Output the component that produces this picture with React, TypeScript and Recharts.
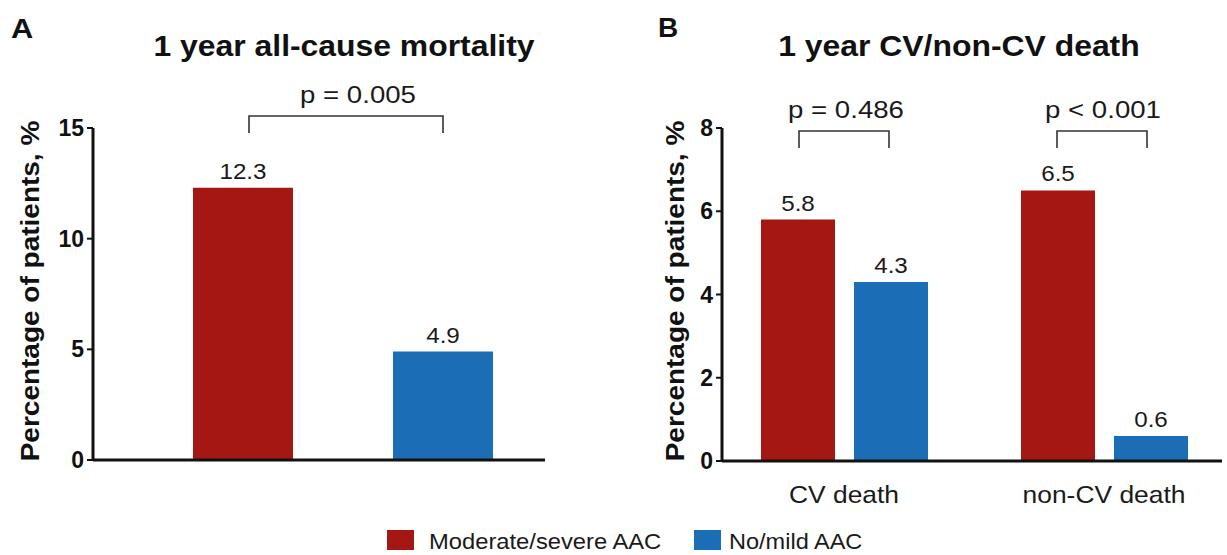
import React from "react";
import { BarChart, Bar, XAxis, YAxis, LabelList } from "recharts";

const FONT = "'Liberation Sans', Arial, sans-serif";
const RED = "#A51712";
const BLUE = "#1B6DB5";

// panel A
const allCauseGroups = [""];
const allCauseModerate = [12.3];
const allCauseMild = [4.9];
const allCauseTicks = [0, 5, 10, 15];

// panel B
const deathGroups = ["CV death", "non-CV death"];
const deathModerate = [5.8, 6.5];
const deathMild = [4.3, 0.6];
const deathTicks = [0, 2, 4, 6, 8];

const seriesNames = ["Moderate/severe AAC", "No/mild AAC"];
const pValues = ["p = 0.005", "p = 0.486", "p < 0.001"];

const dataA = allCauseGroups.map((g, i) => ({
  group: g,
  moderate: allCauseModerate[i],
  mild: allCauseMild[i],
}));

const dataB = deathGroups.map((g, i) => ({
  group: g,
  moderate: deathModerate[i],
  mild: deathMild[i],
}));

const tickStyle = { fontFamily: FONT, fontSize: 23, fontWeight: 700, fill: "#111" };

// text that is a bit wider than the font, like the original figure
function SText(props: any) {
  const { x, y, sx = 1, angle = 0, anchor = "middle", size = 22, weight = 400, fill = "#1a1a1a", children } = props;
  return (
    <g transform={`translate(${x},${y}) rotate(${angle}) scale(${sx},1)`}>
      <text x={0} y={0} textAnchor={anchor} fontSize={size} fontWeight={weight} fontFamily={FONT} fill={fill}>
        {children}
      </text>
    </g>
  );
}

const valueLabel = (props: any) => {
  const { x, y, width, value } = props;
  return (
    <SText x={Number(x) + Number(width) / 2} y={Number(y) - 9} size={22} sx={1.1}>
      {value}
    </SText>
  );
};

const groupTick = (props: any) => {
  const { x, y, payload } = props;
  return (
    <SText x={x} y={Number(y) + 42} size={24} sx={1.1}>
      {payload.value}
    </SText>
  );
};

function Bracket(props: { x1: number; x2: number; y: number; text: string; ty: number; dx: number }) {
  const { x1, x2, y, text, ty, dx } = props;
  return (
    <g>
      <path d={`M${x1},${y + 17} V${y} H${x2} V${y + 17}`} fill="none" stroke="#333" strokeWidth={1.6} />
      <SText x={(x1 + x2) / 2 + dx} y={ty} size={24} sx={1.15}>
        {text}
      </SText>
    </g>
  );
}

export default function App() {
  return (
    <div style={{ position: "absolute", left: 0, top: 0, width: 1227, height: 555, background: "#fff" }}>
      <div style={{ position: "absolute", left: 0, top: 0 }}>
        <BarChart
          width={560}
          height={555}
          data={dataA}
          margin={{ top: 128, right: 15, bottom: 55, left: 0 }}
          barSize={100}
          barGap={100}
        >
          <XAxis
            dataKey="group"
            tick={false}
            tickLine={false}
            height={40}
            axisLine={{ stroke: "#111", strokeWidth: 3 }}
            padding={{ left: 98, right: 51 }}
          />
          <YAxis
            width={93}
            domain={[0, 15]}
            ticks={allCauseTicks}
            interval={0}
            tick={tickStyle}
            tickSize={6}
            tickMargin={3}
            axisLine={{ stroke: "#111", strokeWidth: 3 }}
            tickLine={{ stroke: "#111", strokeWidth: 2 }}
          />
          <Bar dataKey="moderate" fill={RED} isAnimationActive={false}>
            <LabelList dataKey="moderate" content={valueLabel} />
          </Bar>
          <Bar dataKey="mild" fill={BLUE} isAnimationActive={false}>
            <LabelList dataKey="mild" content={valueLabel} />
          </Bar>
        </BarChart>
      </div>

      <div style={{ position: "absolute", left: 620, top: 0 }}>
        <BarChart
          width={607}
          height={555}
          data={dataB}
          margin={{ top: 128, right: 5, bottom: 54, left: 0 }}
          barSize={74}
          barGap={19}
        >
          <XAxis
            dataKey="group"
            tickLine={false}
            tickSize={0}
            tickMargin={0}
            height={40}
            tick={groupTick}
            interval={0}
            axisLine={{ stroke: "#111", strokeWidth: 3 }}
            padding={{ left: -8, right: -12 }}
          />
          <YAxis
            width={102}
            domain={[0, 8]}
            ticks={deathTicks}
            interval={0}
            tick={tickStyle}
            tickSize={6}
            tickMargin={3}
            axisLine={{ stroke: "#111", strokeWidth: 3 }}
            tickLine={{ stroke: "#111", strokeWidth: 2 }}
          />
          <Bar dataKey="moderate" fill={RED} isAnimationActive={false}>
            <LabelList dataKey="moderate" content={valueLabel} />
          </Bar>
          <Bar dataKey="mild" fill={BLUE} isAnimationActive={false}>
            <LabelList dataKey="mild" content={valueLabel} />
          </Bar>
        </BarChart>
      </div>

      <svg width={1227} height={555} style={{ position: "absolute", left: 0, top: 0, pointerEvents: "none" }}>
        <SText x={11} y={38} anchor="start" size={28} weight={700} sx={1.1} fill="#111">A</SText>
        <SText x={658} y={37} anchor="start" size={28} weight={700} fill="#111">B</SText>
        <SText x={344} y={56} size={29} weight={700} sx={1.1} fill="#111">
          1 year all-cause mortality
        </SText>
        <SText x={959} y={56} size={29} weight={700} sx={1.1} fill="#111">
          1 year CV/non-CV death
        </SText>
        <SText x={39} y={291} angle={-90} size={25} weight={700} sx={1.12} fill="#111">
          Percentage of patients, %
        </SText>
        <SText x={684} y={291} angle={-90} size={25} weight={700} sx={1.12} fill="#111">
          Percentage of patients, %
        </SText>
        <Bracket x1={249} x2={443} y={116} text={pValues[0]} ty={103} dx={12} />
        <Bracket x1={799} x2={889} y={131} text={pValues[1]} ty={118} dx={2} />
        <Bracket x1={1057} x2={1147} y={131} text={pValues[2]} ty={118} dx={1} />

        <rect x={387} y={530} width={27} height={20} fill={RED} />
        <SText x={429} y={549} anchor="start" size={22} sx={1.08}>{seriesNames[0]}</SText>
        <rect x={694} y={530} width={27} height={20} fill={BLUE} />
        <SText x={729} y={549} anchor="start" size={22} sx={1.07}>{seriesNames[1]}</SText>
      </svg>
    </div>
  );
}
